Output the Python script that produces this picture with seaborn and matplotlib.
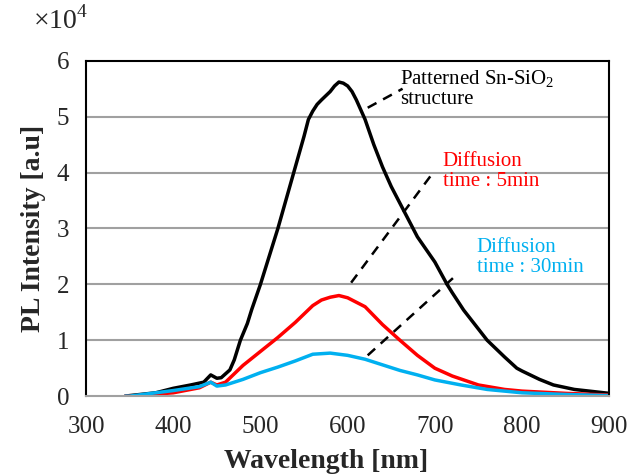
import numpy as np
import pandas as pd
import seaborn as sns
import matplotlib.pyplot as plt

# --- DATA (PL intensity in units of 1e4) ---
wl_black = [345, 350, 380, 400, 420, 435, 443, 450, 455, 465, 470, 477, 485, 490, 500, 510, 520, 530,
            540, 550, 555, 560, 565, 570, 580, 585, 590, 595, 600, 605, 610, 620, 630, 640, 650, 660,
            670, 680, 700, 714, 720, 733, 740, 760, 780, 794, 800, 820, 836, 860, 900]
pl_black = [0.0, 0.01, 0.06, 0.14, 0.2, 0.25, 0.38, 0.32, 0.33, 0.47, 0.65, 1.0, 1.3, 1.55, 2.0, 2.5, 3.0,
            3.55, 4.1, 4.65, 4.95, 5.1, 5.22, 5.3, 5.45, 5.55, 5.62, 5.6, 5.55, 5.45, 5.3, 4.95, 4.5,
            4.1, 3.75, 3.45, 3.15, 2.85, 2.4, 2.0, 1.85, 1.54, 1.4, 1.0, 0.7, 0.5, 0.45, 0.3, 0.2, 0.12, 0.05]

wl_red = [345, 350, 400, 430, 443, 450, 460, 470, 480, 500, 520, 540, 560, 570, 580, 590, 600,
          620, 640, 660, 680, 700, 720, 750, 780, 800, 850, 900]
pl_red = [0.0, 0.0, 0.06, 0.15, 0.25, 0.2, 0.25, 0.4, 0.55, 0.8, 1.05, 1.32, 1.62, 1.72, 1.77, 1.8, 1.76,
          1.6, 1.28, 1.0, 0.73, 0.5, 0.36, 0.2, 0.12, 0.09, 0.05, 0.02]

wl_blue = [345, 350, 400, 430, 443, 450, 460, 480, 500, 520, 540, 560, 580, 600, 620, 640, 660,
           680, 700, 730, 760, 800, 850, 900]
pl_blue = [0.0, 0.0, 0.1, 0.17, 0.25, 0.18, 0.2, 0.3, 0.42, 0.52, 0.63, 0.75, 0.77, 0.73, 0.66, 0.56, 0.46,
           0.38, 0.29, 0.2, 0.12, 0.06, 0.03, 0.01]

labels = ["Patterned Sn-SiO$_2$\nstructure", "Diffusion\ntime : 5min", "Diffusion\ntime : 30min"]
colors = ["black", "#FF0000", "#00B0F0"]

# leader lines (start point on curve -> end point near text)
lead_x = [(623, 663), (604, 698), (623, 727)]
lead_y = [(5.16, 5.50), (2.03, 4.0), (0.73, 2.2)]
text_x = [660, 709, 748]
text_y = [5.50, 4.02, 2.48]

sns.set_style("white")
plt.rcParams['font.family'] = ['Liberation Serif', 'DejaVu Serif']
plt.rcParams['mathtext.fontset'] = 'custom'
plt.rcParams['mathtext.rm'] = 'Liberation Serif'

fig, ax = plt.subplots(figsize=(6.42, 4.75), dpi=100)
fig.subplots_adjust(left=0.134, right=0.949, bottom=0.166, top=0.872)

for y in [1, 2, 3, 4, 5]:
    ax.axhline(y, color="#A0A0A0", lw=1.5, zorder=0)

sns.lineplot(x=wl_black, y=pl_black, color=colors[0], lw=2.5, ax=ax)
sns.lineplot(x=wl_red, y=pl_red, color=colors[1], lw=2.5, ax=ax)
sns.lineplot(x=wl_blue, y=pl_blue, color=colors[2], lw=2.5, ax=ax)

for i in range(3):
    ax.plot(lead_x[i], lead_y[i], color="black", ls=(0, (4, 3)), lw=1.8)
    ax.text(text_x[i], text_y[i], labels[i], color=colors[i], fontsize=15,
            va="center", ha="left", linespacing=1.05)

ax.set_xlim(300, 900)
ax.set_ylim(0, 6)
ax.set_xticks(range(300, 901, 100))
ax.set_yticks(range(0, 7))
ax.tick_params(axis="x", direction="in", length=8, width=1.5, color="#A0A0A0", labelsize=18, pad=14)
ax.tick_params(axis="y", length=0, labelsize=18, pad=12)

for side in ["left", "top", "right"]:
    ax.spines[side].set_color("black")
    ax.spines[side].set_linewidth(1.5)
ax.spines["bottom"].set_color("#A0A0A0")
ax.spines["bottom"].set_linewidth(1.5)

ax.set_xlabel("Wavelength [nm]", fontsize=20, fontweight="bold")
ax.xaxis.set_label_coords(0.459, -0.158)
ax.set_ylabel("PL Intensity [a.u]", fontsize=20, fontweight="bold", labelpad=8)

fig.text(0.052, 0.958, "$\\times$10$^4$", fontsize=20, va="center", ha="left")

fig.savefig("out.png", dpi=100)
